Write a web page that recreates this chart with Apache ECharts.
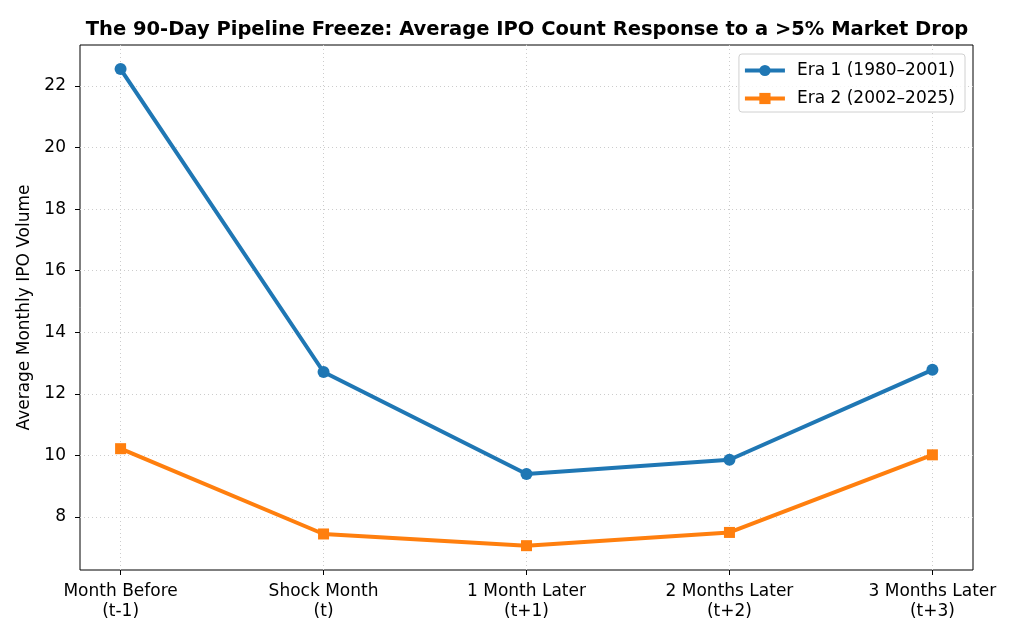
<!DOCTYPE html>
<html>
<head>
<meta charset="utf-8">
<script src="https://cdn.jsdelivr.net/npm/echarts@6/dist/echarts.min.js"></script>
<style>
  html, body { margin: 0; padding: 0; background: #fff; }
  #chart { width: 1024px; height: 640px; }
</style>
</head>
<body>
<div id="chart"></div>
<script>
// data
const categories = ['Month Before\n(t-1)', 'Shock Month\n(t)', '1 Month Later\n(t+1)', '2 Months Later\n(t+2)', '3 Months Later\n(t+3)'];
const era1 = [22.55, 12.71, 9.40, 9.86, 12.78];
const era2 = [10.22, 7.45, 7.07, 7.50, 10.02];
const yTicks = [8, 10, 12, 14, 16, 18, 20, 22];
const seriesNames = ['Era 1 (1980–2001)', 'Era 2 (2002–2025)'];

const font = 'DejaVu Sans';
const colors = { era1: '#1f77b4', era2: '#ff7f0e', grid: '#cccccc' };

const chart = echarts.init(document.getElementById('chart'), null, { renderer: 'canvas' });

const toPoints = arr => arr.map((v, i) => [i, v]);

const option = {
    backgroundColor: '#ffffff',
    animation: false,
    textStyle: { fontFamily: font },
    title: {
        text: 'The 90-Day Pipeline Freeze: Average IPO Count Response to a >5% Market Drop',
        left: 522,
        textAlign: 'center',
        top: 15,
        textStyle: { fontFamily: font, fontSize: 19.5, fontWeight: 'bold', color: '#000' }
    },
    legend: {
        data: seriesNames,
        orient: 'vertical',
        right: 59,
        top: 54,
        itemWidth: 40,
        itemHeight: 14,
        itemGap: 11,
        padding: [8, 10, 5, 4],
        borderColor: '#d0d0d0',
        borderWidth: 1,
        borderRadius: 3,
        backgroundColor: 'rgba(255,255,255,0.8)',
        lineStyle: { width: 4 },
        textStyle: { fontFamily: font, fontSize: 17, color: '#000', padding: [0, 0, 0, 7] }
    },
    grid: {
        left: 80, right: 51, top: 45, bottom: 70,
        show: true, borderColor: '#000', borderWidth: 1
    },
    xAxis: {
        type: 'value',
        min: -0.2,
        max: 4.2,
        axisLine: { show: false },
        axisTick: { show: true, length: 5, lineStyle: { color: '#000' }, customValues: [0, 1, 2, 3, 4] },
        axisLabel: {
            customValues: [0, 1, 2, 3, 4],
            formatter: v => categories[Math.round(v)],
            color: '#000', fontFamily: font, fontSize: 17, lineHeight: 20, margin: 12, align: 'center'
        },
        splitLine: { show: true, lineStyle: { color: colors.grid, type: [1, 3], width: 1 } }
    },
    yAxis: {
        type: 'value',
        min: 6.28,
        max: 23.33,
        name: 'Average Monthly IPO Volume',
        nameLocation: 'middle',
        nameGap: 42,
        nameTextStyle: { fontFamily: font, fontSize: 17, color: '#000' },
        axisLine: { show: false, onZero: false },
        axisTick: { show: true, length: 5, lineStyle: { color: '#000' }, customValues: yTicks },
        axisLabel: { customValues: yTicks, color: '#000', fontFamily: font, fontSize: 17, margin: 14 },
        splitLine: { show: true, lineStyle: { color: colors.grid, type: [1, 3], width: 1 } }
    },
    series: [
        {
            name: seriesNames[0],
            type: 'line',
            data: toPoints(era1),
            symbol: 'circle',
            symbolSize: 12,
            lineStyle: { color: colors.era1, width: 4 },
            itemStyle: { color: colors.era1 }
        },
        {
            name: seriesNames[1],
            type: 'line',
            data: toPoints(era2),
            symbol: 'rect',
            symbolSize: 11,
            lineStyle: { color: colors.era2, width: 4 },
            itemStyle: { color: colors.era2 }
        }
    ]
};

chart.setOption(option);
</script>
</body>
</html>
